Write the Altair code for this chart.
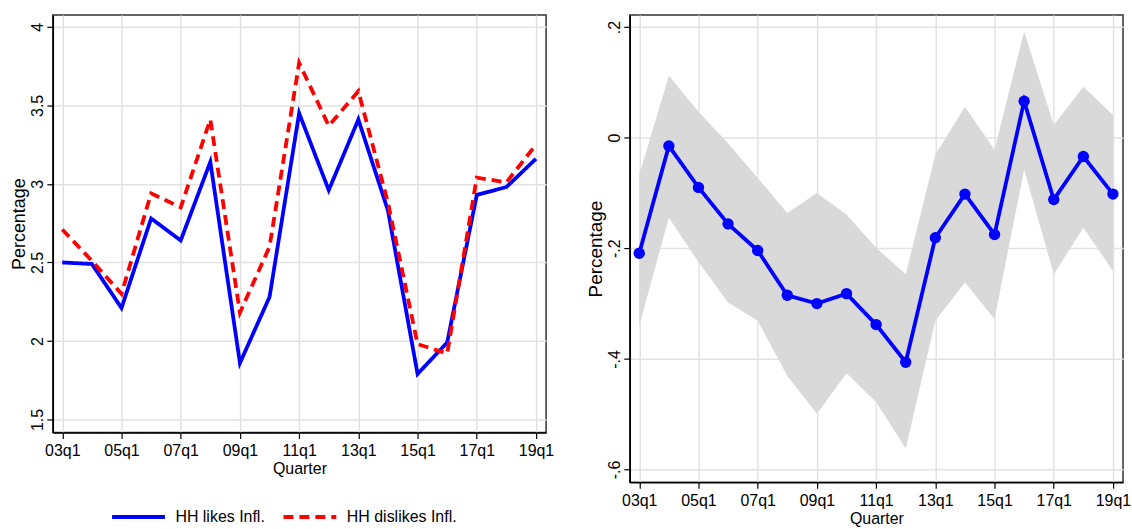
import altair as alt
import pandas as pd

# Survey years, one observation per first quarter
years = list(range(2003, 2020))

# Left panel: expected inflation by household attitude
likes = [2.50, 2.49, 2.21, 2.78, 2.64, 3.14, 1.86, 2.28, 3.45, 2.96, 3.41, 2.83, 1.79, 1.99, 2.93, 2.98, 3.16]
dislikes = [2.71, 2.51, 2.30, 2.94, 2.85, 3.41, 2.18, 2.60, 3.77, 3.37, 3.59, 2.88, 1.98, 1.92, 3.04, 3.01, 3.25]

# Right panel: estimated difference with confidence band
est = [-0.209, -0.015, -0.090, -0.156, -0.204, -0.285, -0.300, -0.282, -0.338, -0.406,
       -0.181, -0.102, -0.175, 0.066, -0.112, -0.034, -0.102]
ci_high = [-0.067, 0.112, 0.047, -0.010, -0.073, -0.136, -0.100, -0.139, -0.199, -0.247,
           -0.031, 0.056, -0.022, 0.192, 0.023, 0.092, 0.041]
ci_low = [-0.340, -0.145, -0.225, -0.298, -0.331, -0.431, -0.499, -0.426, -0.478, -0.562,
          -0.331, -0.262, -0.328, -0.058, -0.247, -0.163, -0.241]

series = ["HH likes Infl.", "HH dislikes Infl."]
x_ticks = list(range(2003, 2020, 2))
left_y_ticks = [1.5, 2, 2.5, 3, 3.5, 4]
right_y_ticks = [-0.6, -0.4, -0.2, 0, 0.2]

df_left = pd.DataFrame({
    "year": years * 2,
    "value": likes + dislikes,
    "series": [series[0]] * len(years) + [series[1]] * len(years),
})
df_right = pd.DataFrame({"year": years, "est": est, "low": ci_low, "high": ci_high})

FONT = "Liberation Sans, Arial, sans-serif"
X_DOMAIN = [2002.68, 2019.34]


def x_enc():
    return alt.X(
        "year:Q",
        scale=alt.Scale(domain=X_DOMAIN, nice=False, zero=False),
        axis=alt.Axis(
            values=x_ticks,
            labelExpr="(datum.value < 2010 ? '0' : '') + (datum.value - 2000) + 'q1'",
            title="Quarter",
            labelFont=FONT,
            labelFontSize=16,
            titleFont=FONT,
            titleFontSize=16,
            titleFontWeight="normal",
            labelPadding=4,
            titlePadding=2,
            labelFlush=False,
        ),
    )


def y_axis(ticks, expr, title_size):
    return alt.Axis(
        values=ticks,
        labelExpr=expr,
        title="Percentage",
        labelAngle=270,
        labelAlign="center",
        labelBaseline="bottom",
        labelFont=FONT,
        labelFontSize=16,
        titleFont=FONT,
        titleFontSize=title_size,
        titleFontWeight="normal",
        labelPadding=1,
        titlePadding=1,
    )


# Long horizontal line used as the legend key
legend = alt.Legend(
    title=None,
    orient="none",
    legendX=73,
    legendY=491,
    direction="horizontal",
    symbolType="M-2.5,0H2.5",
    symbolSize=450,
    symbolStrokeWidth=4,
    labelFont=FONT,
    labelFontSize=16,
    labelColor="black",
    labelOffset=24,
    columnPadding=10,
)

left = alt.Chart(df_left).mark_line(strokeWidth=3.8).encode(
    x=x_enc(),
    y=alt.Y(
        "value:Q",
        scale=alt.Scale(domain=[1.418, 4.076], nice=False, zero=False),
        axis=y_axis(left_y_ticks, "toString(datum.value)", 18),
    ),
    color=alt.Color("series:N", scale=alt.Scale(domain=series, range=["#0000ff", "#ff0000"]), legend=legend),
    strokeDash=alt.StrokeDash("series:N", scale=alt.Scale(domain=series, range=[[1, 0], [10, 6]]), legend=legend),
).properties(width=495, height=419)

right_y = dict(
    scale=alt.Scale(domain=[-0.623, 0.222], nice=False, zero=False),
    axis=y_axis(right_y_ticks, "replace(toString(datum.value), '0.', '.')", 19),
)

band = alt.Chart(df_right).mark_area(color="#d9d9d9", opacity=1).encode(
    x=x_enc(),
    y=alt.Y("low:Q", **right_y),
    y2="high:Q",
)
line = alt.Chart(df_right).mark_line(color="#0000ff", strokeWidth=3.8).encode(
    x=x_enc(),
    y=alt.Y("est:Q", **right_y),
)
dots = alt.Chart(df_right).mark_circle(color="#0000ff", size=130, opacity=1).encode(
    x=x_enc(),
    y=alt.Y("est:Q", **right_y),
)
right = alt.layer(band, line, dots).properties(width=495, height=469)

chart = alt.hconcat(left, right, spacing=31).properties(
    padding={"left": 10, "top": 13, "right": 0, "bottom": 0},
    background="white",
).configure_axis(
    gridColor="#e2e2e2",
    gridWidth=1.5,
    domainColor="black",
    domainWidth=1.5,
    tickColor="black",
    tickWidth=1.2,
    tickSize=6,
    labelColor="black",
    titleColor="black",
).configure_view(
    stroke="#333333",
    strokeWidth=1.5,
)

chart.save("out.html", embed_options={"renderer": "svg", "actions": False})
